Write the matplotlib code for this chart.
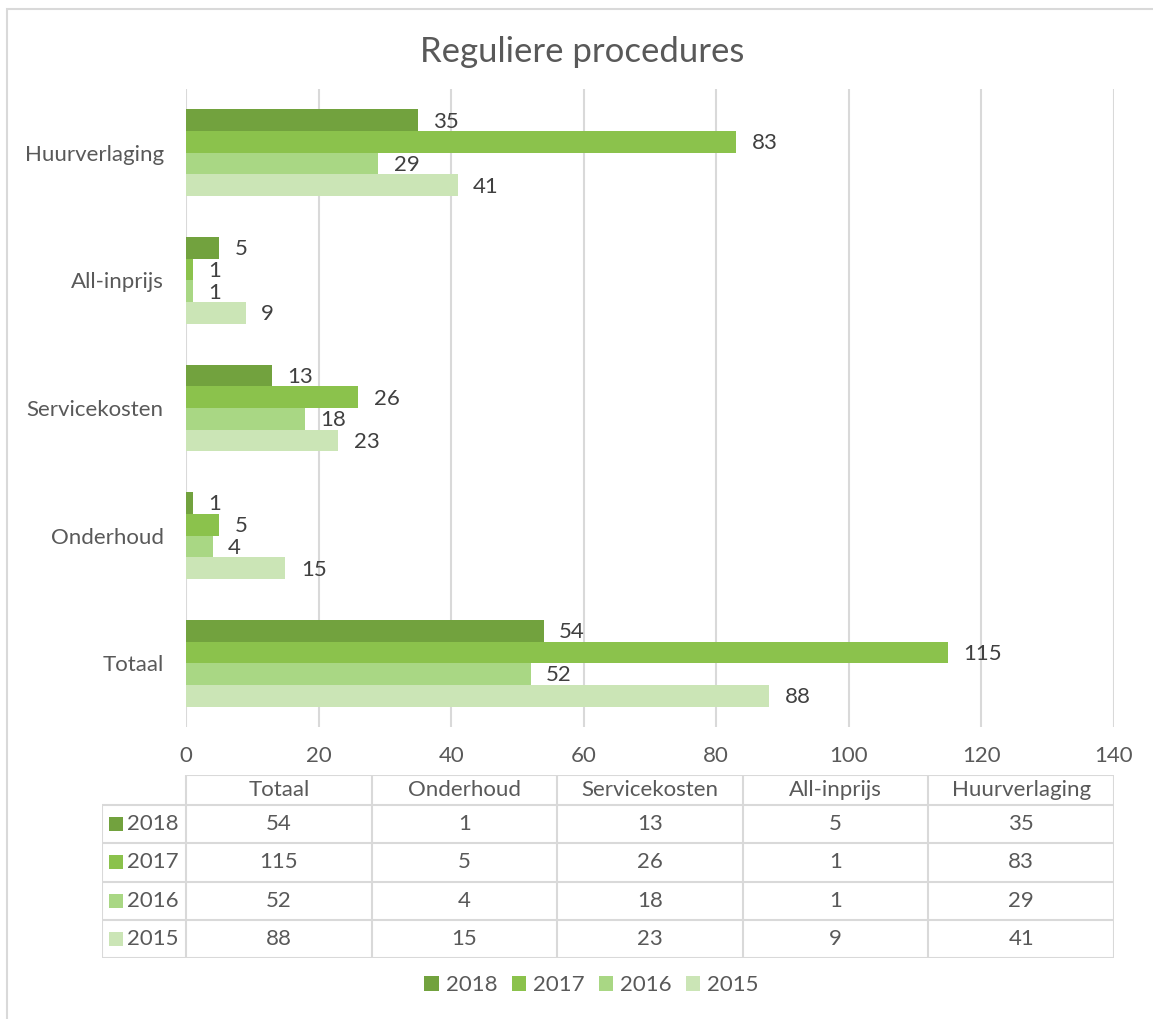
import matplotlib.pyplot as plt
import numpy as np
from matplotlib.patches import Patch, Rectangle
from matplotlib.lines import Line2D

plt.rcParams['font.family'] = ['Lato', 'DejaVu Sans']

# data
categories = ["Totaal", "Onderhoud", "Servicekosten", "All-inprijs", "Huurverlaging"]
years = ["2018", "2017", "2016", "2015"]
v2018 = [54, 1, 13, 5, 35]
v2017 = [115, 5, 26, 1, 83]
v2016 = [52, 4, 18, 1, 29]
v2015 = [88, 15, 23, 9, 41]
series = [v2018, v2017, v2016, v2015]
colors = ["#72A23E", "#8BC24C", "#A9D784", "#CBE5B6"]
xticks = np.arange(0, 141, 20)

W, H = 1153, 1019
grey = "#D9D9D9"
txt = "#595959"
fs = 16

fig = plt.figure(figsize=(W / 100, H / 100), dpi=100)

# outer chart border
fig.add_artist(Rectangle((7 / W, -0.05), 1.1, 1 - 9 / H + 0.05, transform=fig.transFigure,
                         facecolor="none", edgecolor=grey, lw=1.5))

fig.text(0.505, 1 - 52 / H, "Reguliere procedures", ha="center", va="center",
         fontsize=25, color=txt)

# main bar axes
left, right, top, bottom = 186, 1114, 89, 727
ax = fig.add_axes([left / W, 1 - bottom / H, (right - left) / W, (bottom - top) / H])
y = np.arange(len(categories))
bh = 0.17
for i, (vals, c) in enumerate(zip(series, colors)):
    pos = y + (1.5 - i) * bh
    ax.barh(pos, vals, height=bh, color=c, zorder=2)
    for p, v in zip(pos, vals):
        # white label box sits under the bars, the text above them
        ax.annotate(str(v), (v, p), xytext=(11, -1), textcoords="offset points",
                    ha="left", va="center", fontsize=fs, color="white", zorder=1.5,
                    bbox=dict(boxstyle="square,pad=0.2", facecolor="white", edgecolor="none"))
        ax.annotate(str(v), (v, p), xytext=(11, -1), textcoords="offset points",
                    ha="left", va="center", fontsize=fs, color="#404040", zorder=3)

ax.set_xlim(0, 140)
ax.set_ylim(-0.5, len(categories) - 0.5)
ax.set_xticks(xticks)
ax.set_yticks(y)
ax.set_yticklabels(categories)
ax.grid(axis="x", color=grey, lw=1.5, zorder=0)
for s in ax.spines.values():
    s.set_visible(False)
ax.tick_params(axis="both", length=0, labelsize=fs, labelcolor=txt)
ax.tick_params(axis="x", pad=14)
ax.tick_params(axis="y", pad=16)

# data table below the axis
tl, tr, ttop, tbot = 102, 1114, 775, 958
tab = fig.add_axes([tl / W, 1 - tbot / H, (tr - tl) / W, (tbot - ttop) / H])
tab.set_xlim(tl, tr)
tab.set_ylim(tbot, ttop)
tab.axis("off")
head_h = 30
row_h = (tbot - ttop - head_h) / len(years)
col_w = (right - left) / len(categories)

# header row
for j, cat in enumerate(categories):
    tab.text(left + (j + 0.5) * col_w, ttop + head_h / 2, cat, ha="center", va="center",
             fontsize=fs, color=txt)
# body rows
for i, (yr, vals, c) in enumerate(zip(years, series, colors)):
    yc = ttop + head_h + (i + 0.5) * row_h
    tab.add_patch(Rectangle((tl + 7, yc - 7), 14, 14, facecolor=c, edgecolor="none"))
    tab.text(tl + 25, yc, yr, ha="left", va="center", fontsize=fs, color=txt)
    for j, v in enumerate(vals):
        tab.text(left + (j + 0.5) * col_w, yc, str(v), ha="center", va="center",
                 fontsize=fs, color=txt)

# grid lines of the table
lk = dict(color=grey, lw=1.5, solid_capstyle="butt")
tab.add_line(Line2D([left, tr], [ttop, ttop], **lk))
for i in range(len(years) + 1):
    yy = ttop + head_h + i * row_h
    tab.add_line(Line2D([tl, tr], [yy, yy], **lk))
tab.add_line(Line2D([tl, tl], [ttop + head_h, tbot], **lk))
for j in range(len(categories) + 1):
    xx = left + j * col_w
    tab.add_line(Line2D([xx, xx], [ttop, tbot], **lk))

# legend
handles = [Patch(facecolor=c, label=yr) for yr, c in zip(years, colors)]
fig.legend(handles=handles, loc="center", bbox_to_anchor=(0.513, 1 - 985 / H), ncol=4,
           frameon=False, fontsize=fs, labelcolor=txt, handlelength=0.65, handleheight=0.65,
           handletextpad=0.3, columnspacing=0.65)

fig.savefig("out.png", dpi=100)
